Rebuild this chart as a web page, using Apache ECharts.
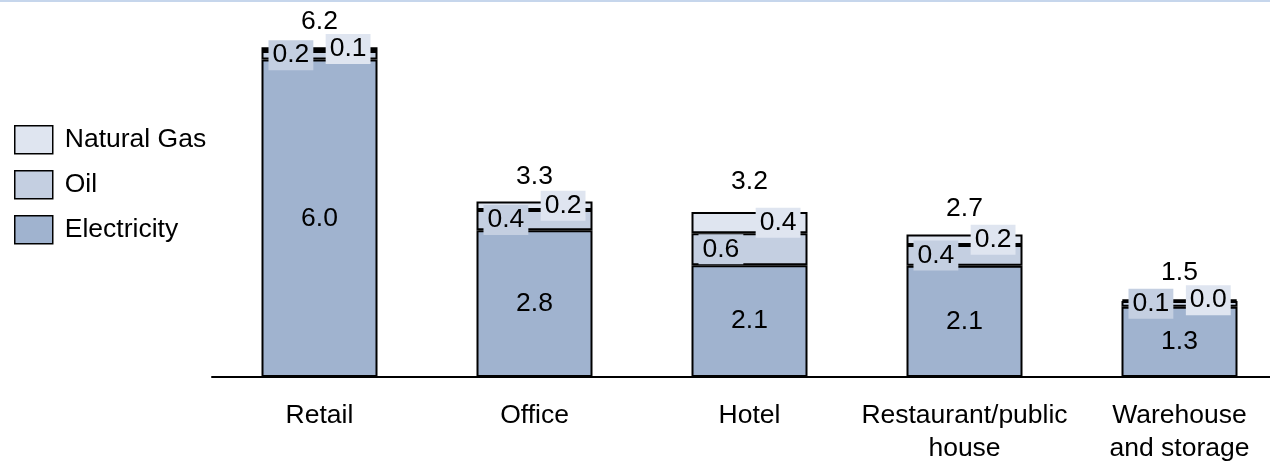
<!DOCTYPE html>
<html>
<head>
<meta charset="utf-8">
<style>
  html, body { margin: 0; padding: 0; background: #ffffff; }
  #chart { width: 1270px; height: 466px; }
</style>
<script src="https://cdn.jsdelivr.net/npm/echarts@6/dist/echarts.min.js"></script>
</head>
<body>
<div id="chart"></div>
<script>
// Energy consumption by building type, split by fuel
const categories = ['Retail', 'Office', 'Hotel', 'Restaurant/public\nhouse', 'Warehouse\nand storage'];
const electricity = [5.97, 2.76, 2.10, 2.09, 1.32];
const oil = [0.16, 0.38, 0.60, 0.39, 0.11];
const naturalGas = [0.07, 0.16, 0.40, 0.20, 0.03];
const totals = [6.2, 3.3, 3.2, 2.7, 1.5];

const COLORS = {
  electricity: '#a0b3cf',
  oil: '#c4cfe1',
  gas: '#dfe5f0'
};
const FONT = "'Liberation Sans', Arial, sans-serif";
const FS = 26.5;
const fmt = p => Number(p.value).toFixed(1);

const chart = echarts.init(document.getElementById('chart'), null, { renderer: 'canvas' });

const barBase = {
  type: 'bar',
  stack: 'energy',
  barWidth: 116,
  emphasis: { disabled: true }
};

chart.setOption({
  animation: false,
  backgroundColor: '#ffffff',
  textStyle: { fontFamily: FONT },
  graphic: [{
    type: 'rect',
    shape: { x: 0, y: 0, width: 1270, height: 2 },
    style: { fill: '#c6d6ec' },
    silent: true
  }],
  legend: {
    orient: 'vertical',
    left: 14,
    top: 125,
    padding: 0,
    itemWidth: 38,
    itemHeight: 28,
    itemGap: 15.5,
    icon: 'rect',
    selectedMode: false,
    data: ['Natural Gas', 'Oil', 'Electricity'],
    itemStyle: { borderColor: '#000', borderWidth: 1.5 },
    textStyle: { fontFamily: FONT, fontSize: FS, color: '#000', padding: [0, 0, 0, 7] }
  },
  // the last category band runs past the right edge of the canvas
  grid: { left: 212, width: 1075, top: 4.6, bottom: 89, containLabel: false, outerBoundsMode: 'none' },
  xAxis: {
    type: 'category',
    data: categories,
    axisLine: { lineStyle: { color: '#000', width: 2 } },
    axisTick: { show: false },
    axisLabel: {
      interval: 0,
      margin: 22,
      fontFamily: FONT,
      fontSize: FS,
      lineHeight: 33,
      color: '#000'
    }
  },
  yAxis: {
    type: 'value',
    min: 0,
    max: 7,
    show: false,
    splitLine: { show: false }
  },
  series: [
    Object.assign({}, barBase, {
      name: 'Electricity',
      data: electricity,
      itemStyle: { color: COLORS.electricity, borderColor: '#000', borderWidth: 2 },
      label: {
        show: true,
        position: 'inside',
        formatter: fmt,
        fontFamily: FONT,
        fontSize: FS,
        color: '#000'
      }
    }),
    Object.assign({}, barBase, {
      name: 'Oil',
      data: oil,
      itemStyle: { color: COLORS.oil, borderColor: '#000', borderWidth: 2 },
      label: {
        show: true,
        position: 'insideLeft',
        distance: 7,
        formatter: fmt,
        fontFamily: FONT,
        fontSize: FS,
        color: '#000',
        backgroundColor: COLORS.oil,
        lineHeight: 29,
        padding: [1, 4, 0, 4]
      }
    }),
    Object.assign({}, barBase, {
      name: 'Natural Gas',
      data: naturalGas,
      itemStyle: { color: COLORS.gas, borderColor: '#000', borderWidth: 2 },
      label: {
        show: true,
        position: 'insideRight',
        distance: 7,
        formatter: fmt,
        fontFamily: FONT,
        fontSize: FS,
        color: '#000',
        backgroundColor: COLORS.gas,
        lineHeight: 29,
        padding: [1, 4, 0, 4]
      }
    }),
    {
      name: 'Total',
      type: 'line',
      data: totals,
      symbol: 'circle',
      symbolSize: 1,
      itemStyle: { color: 'rgba(0,0,0,0)' },
      lineStyle: { width: 0, opacity: 0 },
      silent: true,
      emphasis: { disabled: true },
      label: {
        show: true,
        position: 'top',
        distance: 11,
        formatter: fmt,
        fontFamily: FONT,
        fontSize: FS,
        color: '#000'
      },
      z: 10
    }
  ]
});
</script>
</body>
</html>
